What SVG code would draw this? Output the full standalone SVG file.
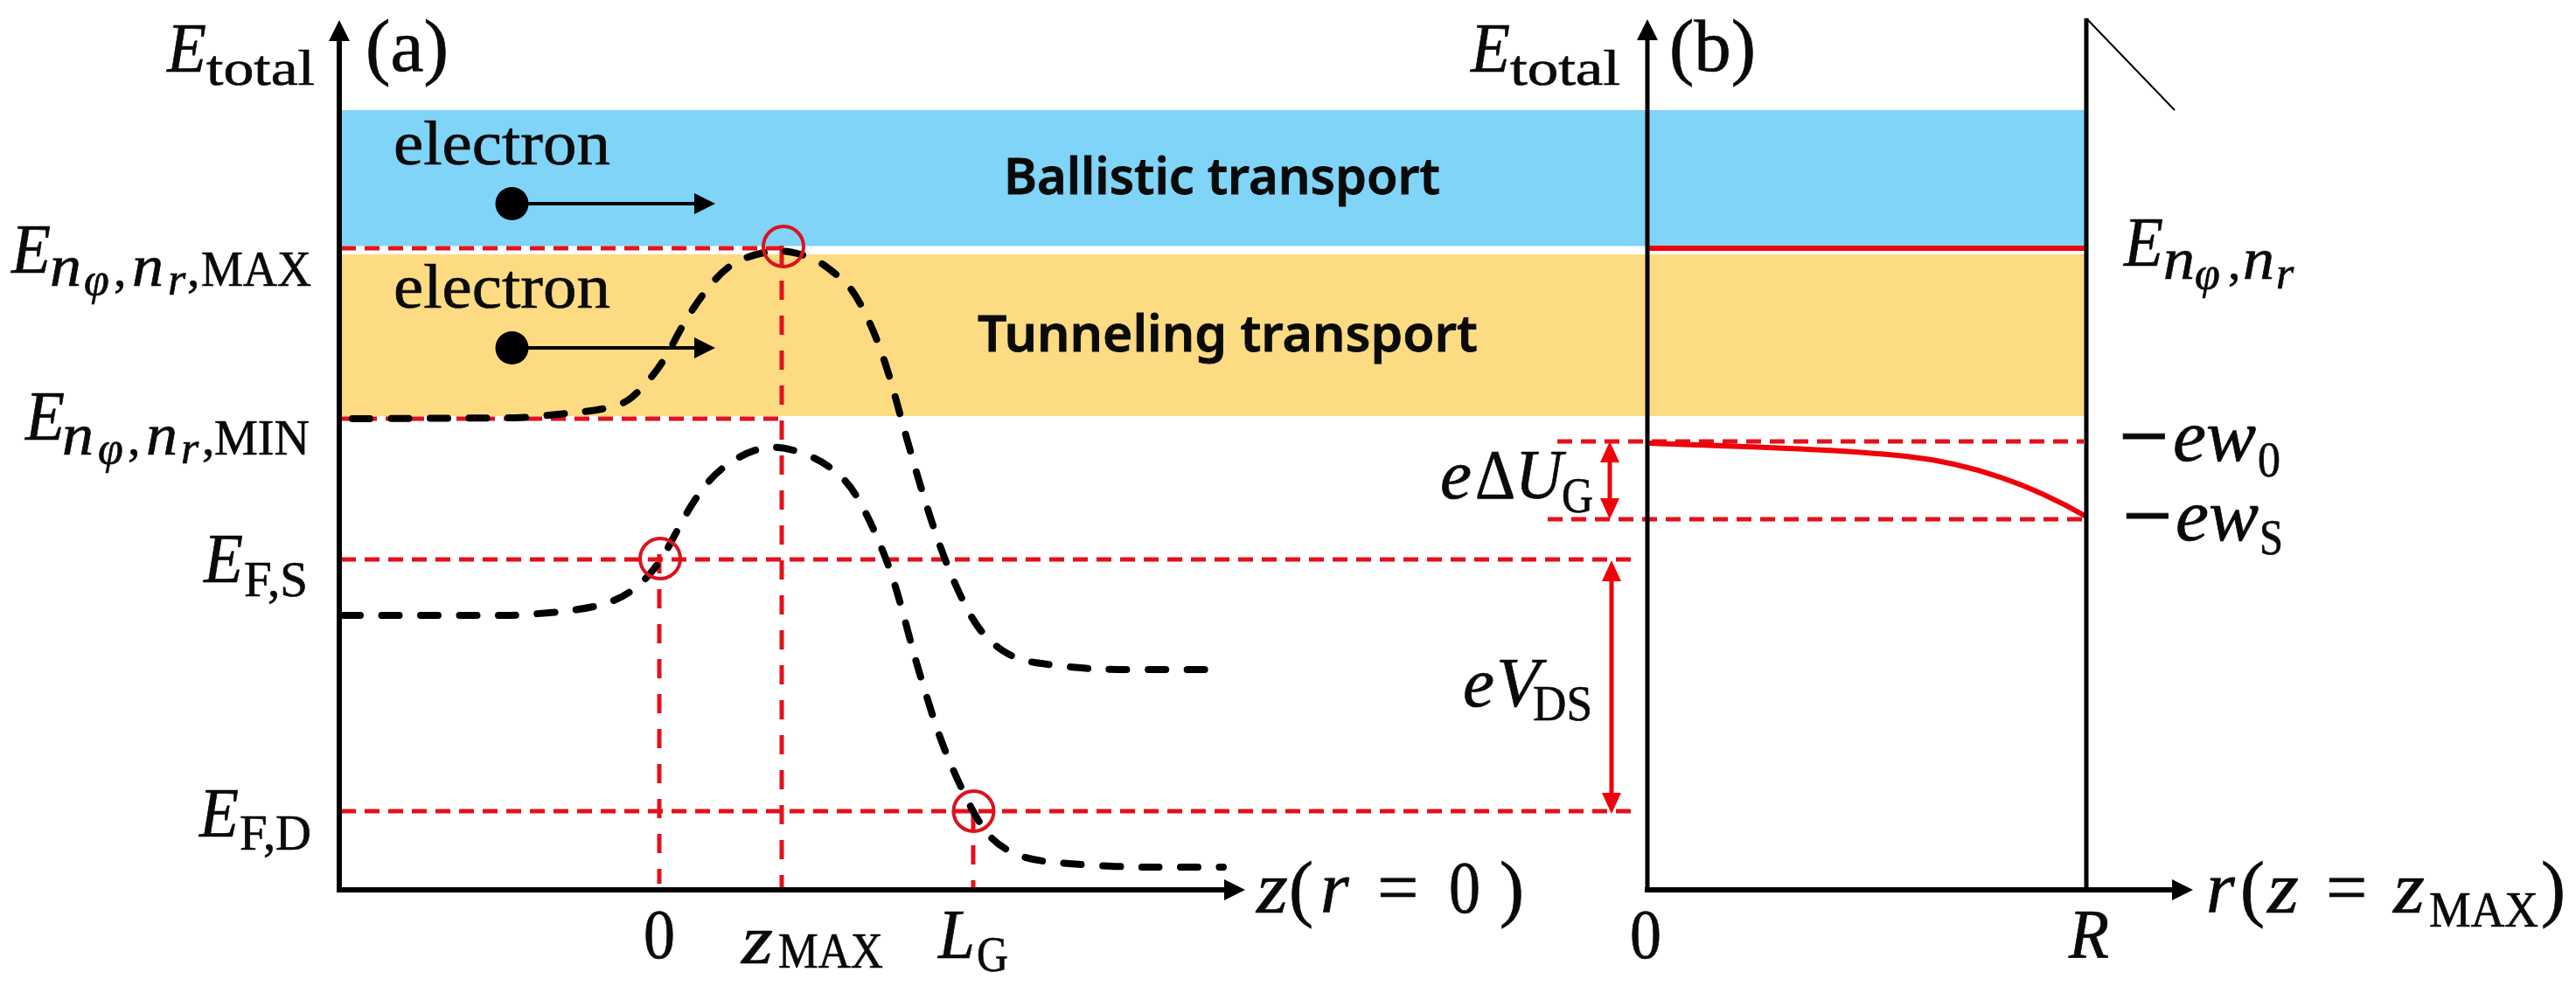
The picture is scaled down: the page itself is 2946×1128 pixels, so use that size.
<svg xmlns="http://www.w3.org/2000/svg" width="2946" height="1128" viewBox="0 0 2946 1128">
<style>
text{font-family:"Liberation Serif","Times New Roman",serif;fill:#0a0a0a;stroke:#0a0a0a;stroke-width:.7;font-size:80px}
.i{font-style:italic}
.p{font-size:84px}
.s{font-size:58px}
.ss{font-size:52px;font-style:italic}
.si{font-size:68px;font-style:italic}
.m{font-weight:700}
.h{font-family:"Noto Sans","Liberation Sans",sans-serif;font-weight:600;font-size:58px;stroke-width:.8}
.ax{fill:none;stroke:#000;stroke-width:6}
.rd{fill:none;stroke:#e3111b;stroke-width:5;stroke-dasharray:17 10}
.rv{fill:none;stroke:#e3111b;stroke-width:5;stroke-dasharray:22 18}
.bk{fill:none;stroke:#000;stroke-width:8;stroke-linecap:round;stroke-dasharray:20 24.500}
.rs{fill:none;stroke:#f00008;stroke-width:6}
.ra{fill:none;stroke:#f00008;stroke-width:5;marker-start:url(#hr);marker-end:url(#hr)}
.c{fill:none;stroke:#d9141e;stroke-width:4}
.dot{fill:#000}
</style>
<defs>
<marker id="hb" markerUnits="userSpaceOnUse" markerWidth="24" markerHeight="24" viewBox="0 0 24 24" refX="0" refY="12" orient="auto"><path d="M0,0L24,12L0,24Z" fill="#000"/></marker>
<marker id="hr" markerUnits="userSpaceOnUse" markerWidth="24" markerHeight="22" viewBox="0 0 24 22" refX="0" refY="11" orient="auto-start-reverse"><path d="M0,0L24,11L0,22Z" fill="#f00008"/></marker>
</defs>
<rect width="2946" height="1128" fill="#fff"/>
<g id="bands">
<rect id="band-ballistic" x="390" y="126" width="1995" height="155.500" fill="#7fd4f7"/>
<rect id="band-tunneling" x="390" y="291" width="1995" height="185" fill="#fddb82"/>
</g>
<g id="connectors">
<g id="guides">
<path class="rd" d="M390,284H893"/>
<path class="rd" d="M387,479H898"/>
<path class="rd" d="M390,640H1870"/>
<path class="rd" d="M390,928H1870"/>
<path class="rd" d="M1781,505H2383"/>
<path class="rd" d="M1770,594H2386"/>
<path class="rv" d="M894,281V1018"/>
<path class="rv" d="M754,634V1011"/>
<path class="rv" d="M1113,927V1018"/>
</g>
<g id="curves">
<path class="bk" d="M403,479L590,478Q600,478 619,476Q638,474 654,472.500Q670,471 690.500,467.500Q711,464 722,455Q733,446 746,430Q759,414 770,392.500Q781,371 792.500,353.500Q804,336 816.500,321.500Q829,307 842,300Q855,293 874,289Q893,285 912,290Q931,295 944,304.500Q957,314 966.500,323Q976,332 987,353.500Q998,375 1007,400Q1016,425 1025.500,460Q1035,495 1046,533Q1057,571 1068.500,605.500Q1080,640 1094,671.500Q1108,703 1119.500,718.500Q1131,734 1147,744.500Q1163,755 1183.500,758Q1204,761 1229.500,763.500Q1255,766 1300,766L1383,766"/>
<path class="bk" d="M392,704L580,704Q593,704 628,701Q663,698 684,692.750Q705,687.500 719,678Q733,669 744.500,655Q756,641.500 767,621Q778,600 787.500,583.500Q797,567 810,551.500Q823,536 842,525Q861,514 877,512Q893,510 915,517.500Q937,525 953,537.500Q969,550 978.500,566Q988,582 995.500,598Q1003,614 1011,634Q1019,654 1025.500,676Q1032,698 1038.500,723Q1045,748 1051,768Q1057,788 1065,813.500Q1073,839 1081,859Q1089,879 1100.500,903.500Q1112,928 1123,945Q1134,962 1151.500,972Q1169,982 1193,985Q1217,988 1252,990Q1287,992 1320,992L1399,992"/>
<path class="rs" d="M1886,284H2385"/>
<path class="rs" d="M1886,507C2000,511 2100,514 2180,522C2245,529 2315,550 2386,591"/>
</g>
<g id="axes">
<path class="ax" d="M388,1018V47" marker-end="url(#hb)"/>
<path class="ax" d="M385,1018H1400" marker-end="url(#hb)"/>
<path class="ax" style="stroke-width:5" d="M1884,1018V46" marker-end="url(#hb)"/>
<path class="ax" d="M1881,1018H2484" marker-end="url(#hb)"/>
<path class="ax" style="stroke-width:5" d="M2386,21V1018"/>
<path fill="none" stroke="#000" stroke-width="2" d="M2386,21L2487,126"/>
</g>
<g id="arrows">
<path class="ax" style="stroke-width:4" d="M600,233H794" marker-end="url(#hb)"/>
<path class="ax" style="stroke-width:4" d="M600,398H794" marker-end="url(#hb)"/>
<path class="ra" d="M1841,529V570"/>
<path class="ra" d="M1843,665V907"/>
</g>
</g>
<g id="electron-1"><circle class="dot" cx="585.500" cy="233" r="19"/><text x="450" y="188" style="font-size:72px" textLength="248" lengthAdjust="spacingAndGlyphs">electron</text></g>
<g id="electron-2"><circle class="dot" cx="585.500" cy="398" r="19"/><text x="450" y="352" style="font-size:72px" textLength="248" lengthAdjust="spacingAndGlyphs">electron</text></g>
<g id="marker-max"><circle class="c" cx="896" cy="282" r="23"/></g>
<g id="marker-fs"><circle class="c" cx="755" cy="639" r="23"/></g>
<g id="marker-fd"><circle class="c" cx="1113.500" cy="928" r="23"/></g>
<g id="label-ballistic"><text class="h" x="1148" y="222" textLength="499" lengthAdjust="spacingAndGlyphs">Ballistic transport</text></g>
<g id="label-tunneling"><text class="h" x="1118" y="402" textLength="572" lengthAdjust="spacingAndGlyphs">Tunneling transport</text></g>
<g id="label-a"><text class="p" x="418" y="81" textLength="95" lengthAdjust="spacingAndGlyphs">(a)</text></g>
<g id="label-b"><text class="p" x="1909" y="81" textLength="99" lengthAdjust="spacingAndGlyphs">(b)</text></g>
<g id="label-etotal-a"><text x="191" y="82"><tspan class="i" textLength="45" lengthAdjust="spacingAndGlyphs">E</tspan><tspan class="s" x="236" y="97" textLength="124" lengthAdjust="spacingAndGlyphs">total</tspan></text></g>
<g id="label-etotal-b"><text x="1682" y="82"><tspan class="i" textLength="45" lengthAdjust="spacingAndGlyphs">E</tspan><tspan class="s" x="1727" y="97" textLength="126" lengthAdjust="spacingAndGlyphs">total</tspan></text></g>
<g id="label-emax"><text x="13" y="312"><tspan class="i" textLength="45" lengthAdjust="spacingAndGlyphs">E</tspan><tspan class="si" x="57" y="327" textLength="36" lengthAdjust="spacingAndGlyphs">n</tspan><tspan class="ss" x="96" y="337">φ</tspan><tspan class="s" x="130" y="327">,</tspan><tspan class="si" x="151" y="327" textLength="36" lengthAdjust="spacingAndGlyphs">n</tspan><tspan class="ss" x="192" y="337">r</tspan><tspan class="s" x="214" y="327">,</tspan><tspan class="s" x="230" y="327" textLength="126" lengthAdjust="spacingAndGlyphs">MAX</tspan></text></g>
<g id="label-emin"><text x="29" y="503"><tspan class="i" textLength="45" lengthAdjust="spacingAndGlyphs">E</tspan><tspan class="si" x="71" y="520" textLength="36" lengthAdjust="spacingAndGlyphs">n</tspan><tspan class="ss" x="112" y="530">φ</tspan><tspan class="s" x="146" y="520">,</tspan><tspan class="si" x="167" y="520" textLength="36" lengthAdjust="spacingAndGlyphs">n</tspan><tspan class="ss" x="207" y="530">r</tspan><tspan class="s" x="231" y="520">,</tspan><tspan class="s" x="245" y="520" textLength="109" lengthAdjust="spacingAndGlyphs">MIN</tspan></text></g>
<g id="label-efs"><text x="233" y="666"><tspan class="i" textLength="45" lengthAdjust="spacingAndGlyphs">E</tspan><tspan class="s" x="279" y="682" textLength="73" lengthAdjust="spacingAndGlyphs">F,S</tspan></text></g>
<g id="label-efd"><text x="228" y="957"><tspan class="i" textLength="45" lengthAdjust="spacingAndGlyphs">E</tspan><tspan class="s" x="274" y="972" textLength="82" lengthAdjust="spacingAndGlyphs">F,D</tspan></text></g>
<g id="label-0a"><text x="736" y="1096" textLength="36" lengthAdjust="spacingAndGlyphs">0</text></g>
<g id="label-zmax"><text x="848" y="1102"><tspan class="i" textLength="36" lengthAdjust="spacingAndGlyphs">z</tspan><tspan class="s" x="890" y="1107" textLength="120" lengthAdjust="spacingAndGlyphs">MAX</tspan></text></g>
<g id="label-lg"><text x="1073" y="1096"><tspan class="i" textLength="42" lengthAdjust="spacingAndGlyphs">L</tspan><tspan class="s" x="1117" y="1111" textLength="36" lengthAdjust="spacingAndGlyphs">G</tspan></text></g>
<g id="label-z-axis"><text class="p" x="1437" y="1044"><tspan class="i" textLength="36" lengthAdjust="spacingAndGlyphs">z</tspan><tspan x="1474">(</tspan><tspan class="i" x="1510">r</tspan> <tspan x="1575">=</tspan> <tspan x="1657" textLength="36" lengthAdjust="spacingAndGlyphs">0</tspan> <tspan x="1715">)</tspan></text></g>
<g id="label-0b"><text x="1864" y="1096" textLength="36" lengthAdjust="spacingAndGlyphs">0</text></g>
<g id="label-r"><text class="i" x="2366" y="1096" textLength="46" lengthAdjust="spacingAndGlyphs">R</text></g>
<g id="label-r-axis"><text class="p" x="2523" y="1044"><tspan class="i">r</tspan><tspan x="2562">(</tspan><tspan class="i" x="2593" textLength="36" lengthAdjust="spacingAndGlyphs">z</tspan> <tspan x="2660">=</tspan> <tspan class="i" x="2737" textLength="36" lengthAdjust="spacingAndGlyphs">z</tspan><tspan class="s" x="2778" y="1060" textLength="125" lengthAdjust="spacingAndGlyphs">MAX</tspan><tspan x="2906" y="1044">)</tspan></text></g>
<g id="label-enn"><text x="2429" y="304"><tspan class="i" textLength="45" lengthAdjust="spacingAndGlyphs">E</tspan><tspan class="si" x="2474" y="319" textLength="36" lengthAdjust="spacingAndGlyphs">n</tspan><tspan class="ss" x="2510" y="330">φ</tspan><tspan class="s" x="2548" y="319">,</tspan><tspan class="si" x="2565" y="319" textLength="36" lengthAdjust="spacingAndGlyphs">n</tspan><tspan class="ss" x="2603" y="330">r</tspan></text></g>
<g id="label-ew0"><text x="2423" y="527"><tspan class="m p" textLength="58" lengthAdjust="spacingAndGlyphs">−</tspan><tspan class="i p" x="2485" textLength="95" lengthAdjust="spacingAndGlyphs">ew</tspan><tspan class="s" x="2582" y="545" textLength="26" lengthAdjust="spacingAndGlyphs">0</tspan></text></g>
<g id="label-ews"><text x="2427" y="618"><tspan class="m p" textLength="58" lengthAdjust="spacingAndGlyphs">−</tspan><tspan class="i p" x="2488" textLength="95" lengthAdjust="spacingAndGlyphs">ew</tspan><tspan class="s" x="2584" y="634" textLength="27" lengthAdjust="spacingAndGlyphs">S</tspan></text></g>
<g id="label-dug"><text x="1647" y="570"><tspan class="i" textLength="36" lengthAdjust="spacingAndGlyphs">e</tspan><tspan x="1687" textLength="46" lengthAdjust="spacingAndGlyphs">Δ</tspan><tspan class="i" x="1733" textLength="54" lengthAdjust="spacingAndGlyphs">U</tspan><tspan class="s" x="1786" y="586" textLength="36" lengthAdjust="spacingAndGlyphs">G</tspan></text></g>
<g id="label-vds"><text x="1673" y="808"><tspan class="i" textLength="36" lengthAdjust="spacingAndGlyphs">e</tspan><tspan class="i" x="1711" textLength="50" lengthAdjust="spacingAndGlyphs">V</tspan><tspan class="s" x="1753" y="824" textLength="68" lengthAdjust="spacingAndGlyphs">DS</tspan></text></g>
</svg>
